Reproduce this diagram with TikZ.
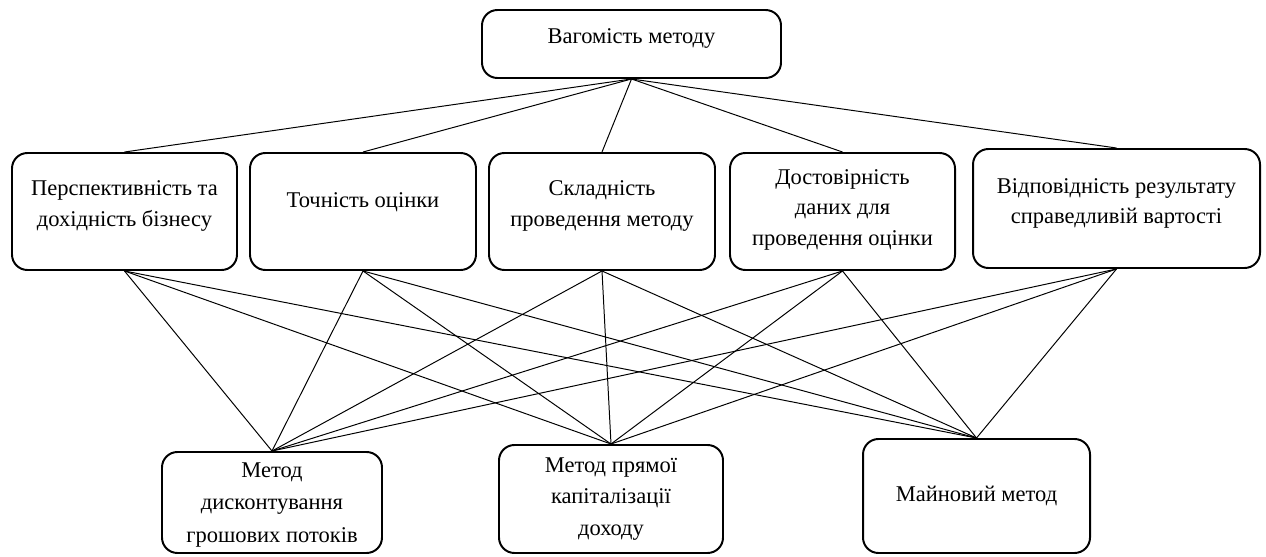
\documentclass[tikz,border=0pt]{standalone}
\usepackage{fontspec}
\setmainfont{Liberation Serif}
\usepackage{tikz}
\usetikzlibrary{shapes}
\tikzstyle{poids}=[rectangle,draw,line width=1.4pt,rounded corners=11pt,align=center,
minimum width=7.475cm,minimum height=1.7cm,font=\fontsize{16}{21.5}\selectfont]
\tikzstyle{critere}=[rectangle,draw,line width=1.4pt,rounded corners=11pt,align=center,
minimum height=2.925cm,font=\fontsize{16}{21.5}\selectfont]
\tikzstyle{methode}=[rectangle,draw,line width=1.4pt,rounded corners=11pt,align=center,
font=\fontsize{16}{22.5}\selectfont]
\tikzstyle{lien}=[line width=0.7pt]

\begin{document}
\begin{tikzpicture}
\useasboundingbox (0,0) rectangle (31.65,-13.925);
\node[poids,text depth=0.4cm] (v) at (15.7875,-1.1) {Вагомість методу};
\node[critere,minimum width=5.625cm,text depth=0.4cm] (c1) at (3.1125,-5.2875) {Перспективність та\\дохідність бізнесу};
\node[critere,minimum width=5.65cm,text depth=0.55cm] (c2) at (9.075,-5.2875) {Точність оцінки};
\node[critere,minimum width=5.65cm,text depth=0.4cm] (c3) at (15.05,-5.2875) {Складність\\проведення методу};
\node[critere,minimum width=5.625cm,text depth=0.2cm] (c4) at (21.0625,-5.2875) {Достовірність\\даних для\\проведення оцінки};
\node[critere,minimum width=7.175cm,minimum height=2.975cm,text depth=0.37cm] (c5) at (27.9125,-5.2125) {Відповідність результату\\справедливій вартості};
\node[methode,minimum width=5.5cm,minimum height=2.525cm,text depth=-0.15cm,font=\fontsize{16}{23}\selectfont] (m1) at (6.8,-12.5625) {Метод\\дисконтування\\грошових потоків};
\node[methode,minimum width=5.6cm,minimum height=2.7cm] (m2) at (15.275,-12.475) {Метод прямої\\капіталізації\\доходу};
\node[methode,minimum width=5.675cm,minimum height=2.85cm] (m3) at (24.4125,-12.4) {Майновий метод};
%liens
\draw[lien] (v.south) -- (c1.north);
\draw[lien] (v.south) -- (c2.north);
\draw[lien] (v.south) -- (c3.north);
\draw[lien] (v.south) -- (c4.north);
\draw[lien] (v.south) -- (c5.north);
\draw[lien] (c1.south) -- (m1.north);
\draw[lien] (c1.south) -- (m2.north);
\draw[lien] (c1.south) -- (m3.north);
\draw[lien] (c2.south) -- (m1.north);
\draw[lien] (c2.south) -- (m2.north);
\draw[lien] (c2.south) -- (m3.north);
\draw[lien] (c3.south) -- (m1.north);
\draw[lien] (c3.south) -- (m2.north);
\draw[lien] (c3.south) -- (m3.north);
\draw[lien] (c4.south) -- (m1.north);
\draw[lien] (c4.south) -- (m2.north);
\draw[lien] (c4.south) -- (m3.north);
\draw[lien] (c5.south) -- (m1.north);
\draw[lien] (c5.south) -- (m2.north);
\draw[lien] (c5.south) -- (m3.north);
\end{tikzpicture}
\end{document}
